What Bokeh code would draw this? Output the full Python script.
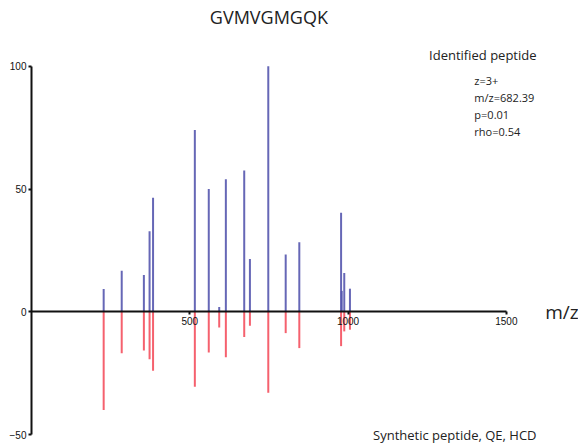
from bokeh.plotting import figure
from bokeh.models import ColumnDataSource, Range1d, Label, FixedTicker
from bokeh.embed import file_html
from bokeh.resources import INLINE

# Identified peptide spectrum (upper, blue)
ident_mz = [228, 285, 355, 373, 384, 516, 560, 593, 614, 672, 690, 748, 803, 846, 978, 980, 988, 1006]
ident_int = [9.3, 16.7, 15.0, 32.8, 46.4, 74.0, 50.0, 1.9, 54.0, 57.5, 21.5, 100.0, 23.3, 28.3, 40.3, 8.5, 15.8, 9.4]

# Synthetic peptide spectrum (lower, red, mirrored)
synth_mz = [228, 285, 355, 373, 384, 516, 560, 593, 614, 672, 690, 748, 803, 846, 978, 988, 1006]
synth_int = [-40.0, -16.9, -15.8, -19.3, -24.0, -30.5, -16.6, -6.4, -18.5, -10.3, -5.7, -33.0, -8.7, -14.8, -14.0, -8.0, -7.3]

x_ticks = [500, 1000, 1500]
y_ticks = [-50, 0, 50, 100]

title_text = "GVMVGMGQK"
ident_label = "Identified peptide"
info_lines = ["z=3+", "m/z=682.39", "p=0.01", "rho=0.54"]
synth_label = "Synthetic peptide, QE, HCD"
x_label = "m/z"

p = figure(width=578, height=448, output_backend="svg", toolbar_location=None,
           x_range=Range1d(0, 1728), y_range=Range1d(-55.7, 126.8),
           min_border_left=31, min_border_right=0, min_border_top=0, min_border_bottom=0)
p.outline_line_color = None
p.grid.visible = False
p.background_fill_color = "white"

src_i = ColumnDataSource(dict(x=ident_mz, y=ident_int, z=[0] * len(ident_mz)))
src_s = ColumnDataSource(dict(x=synth_mz, y=synth_int, z=[0] * len(synth_mz)))
p.segment(x0="x", y0="z", x1="x", y1="y", source=src_s, line_color="#f4505e", line_width=2, line_alpha=0.9)
p.segment(x0="x", y0="z", x1="x", y1="y", source=src_i, line_color="#5557ae", line_width=2, line_alpha=0.9)

for ax in (p.xaxis[0], p.yaxis[0]):
    ax.axis_line_width = 2
    ax.axis_line_color = "#111111"
    ax.major_tick_line_width = 2
    ax.major_tick_line_color = "#111111"
    ax.major_tick_out = 3
    ax.major_tick_in = 0
    ax.minor_tick_line_color = None
    ax.major_label_text_font = "Liberation Sans"
    ax.major_label_text_font_size = "10px"
    ax.major_label_text_color = "#111111"
    ax.major_label_standoff = 2

p.xaxis[0].ticker = FixedTicker(ticks=x_ticks)
p.yaxis[0].ticker = FixedTicker(ticks=y_ticks)
p.xaxis[0].bounds = (0, 1500)
p.yaxis[0].bounds = (-50, 100)
p.xaxis[0].fixed_location = 0

def lab(x, y, t, size, align="left"):
    p.add_layout(Label(x=x, y=y, text=t, text_font="Open Sans", text_font_size=size,
                       text_color="#222222", text_align=align, text_baseline="middle"))

lab(750, 120.2, title_text, "18px", "center")
lab(1256, 104.7, ident_label, "13px")
for i, t in enumerate(info_lines):
    lab(1399, 94.2 - i * 6.95, t, "11px")
lab(1623, 0, x_label, "19px")
lab(1079, -50.1, synth_label, "13px")

open("out.html", "w").write(file_html(p, INLINE))
